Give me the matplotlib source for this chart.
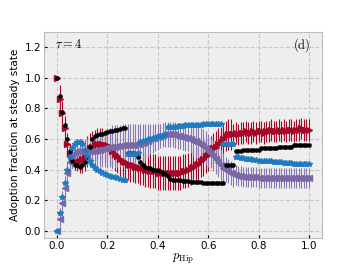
import numpy as np
import matplotlib
matplotlib.use("Agg")
import matplotlib.pyplot as plt

plt.style.use("bmh")
plt.rcParams["mathtext.fontset"] = "cm"

p_hip = np.linspace(0, 1, 101)

red_mean = [
    1.00, 0.86, 0.77, 0.67, 0.57, 0.50, 0.47, 0.46, 0.46, 0.46,
    0.47, 0.49, 0.52, 0.54, 0.55, 0.56, 0.57, 0.57, 0.57, 0.56,
    0.56, 0.54, 0.52, 0.50, 0.49, 0.47, 0.46, 0.45, 0.44, 0.43,
    0.43, 0.42, 0.42, 0.41, 0.41, 0.40, 0.40, 0.39, 0.39, 0.39,
    0.38, 0.38, 0.38, 0.38, 0.38, 0.38, 0.38, 0.38, 0.38, 0.38,
    0.39, 0.39, 0.40, 0.41, 0.42, 0.43, 0.44, 0.46, 0.47, 0.49,
    0.50, 0.52, 0.54, 0.55, 0.57, 0.58, 0.60, 0.62, 0.63, 0.63,
    0.63, 0.64, 0.63, 0.64, 0.64, 0.65, 0.64, 0.64, 0.65, 0.64,
    0.65, 0.65, 0.64, 0.65, 0.65, 0.66, 0.65, 0.65, 0.66, 0.65,
    0.66, 0.65, 0.66, 0.66, 0.65, 0.66, 0.66, 0.67, 0.66, 0.66,
    0.66,
]
red_err = [
    0.00, 0.09, 0.08, 0.08, 0.07, 0.07, 0.06, 0.06, 0.07, 0.08,
    0.09, 0.10, 0.10, 0.10, 0.10, 0.10, 0.10, 0.10, 0.10, 0.10,
    0.10, 0.11, 0.11, 0.11, 0.11, 0.11, 0.11, 0.11, 0.11, 0.11,
    0.11, 0.11, 0.11, 0.11, 0.11, 0.11, 0.11, 0.11, 0.11, 0.11,
    0.11, 0.11, 0.11, 0.11, 0.11, 0.11, 0.11, 0.11, 0.11, 0.11,
    0.11, 0.11, 0.11, 0.11, 0.11, 0.11, 0.11, 0.11, 0.11, 0.11,
    0.11, 0.10, 0.10, 0.10, 0.10, 0.10, 0.10, 0.10, 0.10, 0.10,
    0.07, 0.07, 0.07, 0.07, 0.07, 0.07, 0.07, 0.07, 0.07, 0.07,
    0.07, 0.07, 0.07, 0.07, 0.07, 0.07, 0.07, 0.07, 0.07, 0.07,
    0.07, 0.07, 0.07, 0.07, 0.07, 0.07, 0.07, 0.07, 0.07, 0.07,
    0.07,
]
black_mean = [
    1.00, 0.88, 0.78, 0.69, 0.60, 0.52, 0.46, 0.43, 0.43, 0.42,
    0.43, 0.45, 0.48, 0.55, 0.60, 0.62, 0.625, 0.63, 0.635, 0.64,
    0.645, 0.65, 0.655, 0.66, 0.66, 0.665, 0.67, 0.67, 0.51, 0.51,
    0.51, 0.50, 0.48, 0.45, 0.43, 0.42, 0.41, 0.41, 0.40, 0.40,
    0.40, 0.39, 0.38, 0.37, 0.36, 0.34, 0.33, 0.33, 0.33, 0.33,
    0.325, 0.325, 0.325, 0.32, 0.32, 0.32, 0.32, 0.32, 0.315, 0.315,
    0.315, 0.315, 0.31, 0.31, 0.31, 0.31, 0.31, 0.43, 0.43, 0.43,
    0.43, 0.52, 0.52, 0.52, 0.53, 0.53, 0.53, 0.53, 0.53, 0.53,
    0.53, 0.54, 0.54, 0.54, 0.54, 0.54, 0.54, 0.54, 0.55, 0.55,
    0.55, 0.55, 0.55, 0.55, 0.56, 0.56, 0.56, 0.56, 0.56, 0.56,
    0.56,
]
blue_mean = [
    0.00, 0.12, 0.22, 0.31, 0.40, 0.48, 0.54, 0.57, 0.58, 0.58,
    0.57, 0.53, 0.49, 0.46, 0.43, 0.41, 0.40, 0.39, 0.38, 0.37,
    0.365, 0.36, 0.355, 0.35, 0.345, 0.34, 0.335, 0.33, 0.50, 0.50,
    0.50, 0.50, 0.51, 0.58, 0.59, 0.59, 0.60, 0.60, 0.61, 0.61,
    0.62, 0.62, 0.62, 0.63, 0.68, 0.68, 0.68, 0.68, 0.685, 0.685,
    0.685, 0.69, 0.69, 0.69, 0.69, 0.695, 0.695, 0.695, 0.70, 0.70,
    0.70, 0.70, 0.70, 0.70, 0.70, 0.70, 0.57, 0.57, 0.57, 0.57,
    0.57, 0.48, 0.48, 0.475, 0.475, 0.47, 0.47, 0.47, 0.465, 0.465,
    0.46, 0.46, 0.46, 0.455, 0.455, 0.455, 0.45, 0.45, 0.45, 0.45,
    0.445, 0.445, 0.445, 0.445, 0.44, 0.44, 0.44, 0.44, 0.44, 0.44,
    0.44,
]
purple_mean = [
    0.00, 0.08, 0.18, 0.28, 0.38, 0.45, 0.49, 0.51, 0.52, 0.52,
    0.52, 0.52, 0.52, 0.52, 0.52, 0.525, 0.53, 0.53, 0.535, 0.54,
    0.54, 0.545, 0.55, 0.55, 0.555, 0.555, 0.56, 0.56, 0.56, 0.56,
    0.56, 0.56, 0.565, 0.57, 0.575, 0.58, 0.59, 0.60, 0.605, 0.61,
    0.615, 0.62, 0.625, 0.63, 0.63, 0.63, 0.63, 0.625, 0.62, 0.62,
    0.615, 0.61, 0.605, 0.60, 0.59, 0.585, 0.575, 0.565, 0.555, 0.54,
    0.525, 0.51, 0.49, 0.47, 0.45, 0.43, 0.41, 0.40, 0.39, 0.38,
    0.37, 0.365, 0.36, 0.36, 0.355, 0.355, 0.35, 0.35, 0.35, 0.35,
    0.345, 0.345, 0.345, 0.345, 0.345, 0.345, 0.345, 0.345, 0.345, 0.345,
    0.345, 0.345, 0.345, 0.345, 0.345, 0.345, 0.345, 0.345, 0.345, 0.345,
    0.345,
]
purple_err = [
    0.00, 0.07, 0.08, 0.08, 0.08, 0.08, 0.08, 0.08, 0.08, 0.08,
    0.08, 0.08, 0.09, 0.09, 0.10, 0.10, 0.11, 0.11, 0.12, 0.12,
    0.13, 0.13, 0.14, 0.14, 0.14, 0.14, 0.14, 0.14, 0.14, 0.14,
    0.14, 0.14, 0.135, 0.13, 0.125, 0.12, 0.11, 0.10, 0.095, 0.09,
    0.085, 0.08, 0.08, 0.08, 0.08, 0.08, 0.08, 0.085, 0.085, 0.085,
    0.085, 0.085, 0.085, 0.09, 0.10, 0.11, 0.11, 0.11, 0.11, 0.11,
    0.11, 0.10, 0.10, 0.10, 0.10, 0.10, 0.10, 0.08, 0.08, 0.08,
    0.08, 0.065, 0.065, 0.065, 0.065, 0.065, 0.065, 0.065, 0.065, 0.065,
    0.065, 0.065, 0.065, 0.065, 0.065, 0.065, 0.065, 0.065, 0.065, 0.065,
    0.065, 0.065, 0.065, 0.065, 0.065, 0.065, 0.065, 0.065, 0.065, 0.065,
    0.065,
]

fig = plt.figure(figsize=(3.57, 2.68), dpi=100)
ax = fig.add_axes([0.123, 0.112, 0.779, 0.769])

ax.errorbar(p_hip, red_mean, yerr=red_err, fmt=">", color="#A60628",
            ms=3.8, elinewidth=0.8, capsize=0, zorder=2)
ax.errorbar(p_hip, purple_mean, yerr=purple_err, fmt="<", color="#7A68A6",
            ecolor="#8a7ab4", ms=3.8, elinewidth=0.8, capsize=0, zorder=2)
ax.plot(p_hip, black_mean, "o", color="black", ms=2.3, zorder=3)
ax.plot(p_hip, blue_mean, "*", color="#1f7bbd", ms=4, zorder=3)

ax.set_xlim(-0.052, 1.052)
ax.set_ylim(-0.046, 1.3)
ax.set_xticks([0.0, 0.2, 0.4, 0.6, 0.8, 1.0])
ax.set_yticks([0.0, 0.2, 0.4, 0.6, 0.8, 1.0, 1.2])
ax.tick_params(labelsize=7.5, length=2, pad=2)
ax.grid(True, linestyle="--", color="#c8c8c8", linewidth=0.8)
ax.set_xlabel(r"$p_{\rm Hip}$", fontsize=9, labelpad=1)
ax.set_ylabel("Adoption fraction at steady state", fontsize=7.5, labelpad=3)
ax.text(0.04, 0.92, r"$\tau = 4$", transform=ax.transAxes, fontsize=9)
ax.text(0.96, 0.92, r"$\mathrm{(d)}$", transform=ax.transAxes, fontsize=9,
        ha="right")

fig.savefig("out.png", dpi=100)
